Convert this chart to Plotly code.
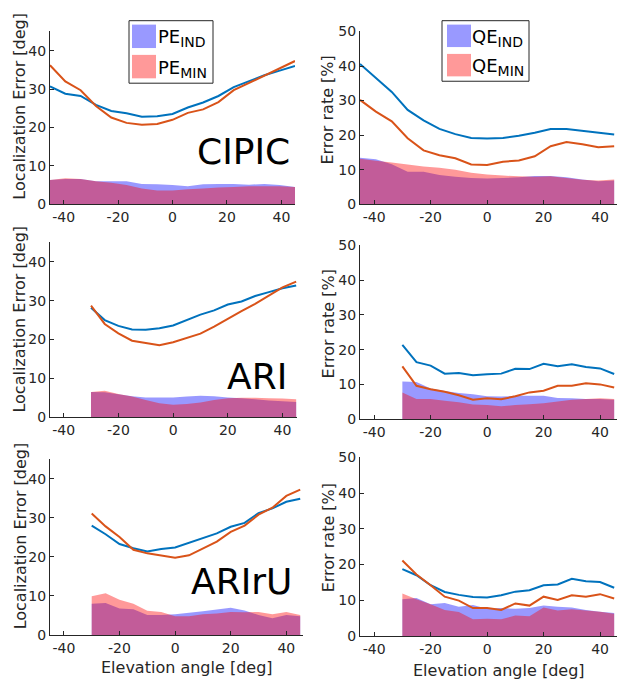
import plotly.graph_objects as go

# ---------------- data ----------------
elev_cipic = [-45, -39.375, -33.75, -28.125, -22.5, -16.875, -11.25, -5.625, 0,
              5.625, 11.25, 16.875, 22.5, 28.125, 33.75, 39.375, 45]
elev_ari = [-30, -25, -20, -15, -10, -5, 0, 5, 10, 15, 20, 25, 30, 35, 40, 45]

# CIPIC - polar error (deg)
cipic_pe_ind_line = [30.7, 28.8, 28.2, 25.9, 24.3, 23.7, 22.8, 22.9, 23.5, 25.2, 26.5, 28.2, 30.5, 32.0, 33.6, 34.8, 36.0]
cipic_pe_min_line = [36.2, 32.0, 29.7, 25.6, 22.6, 21.2, 20.7, 20.9, 22.0, 23.8, 24.7, 26.6, 29.7, 31.6, 33.5, 35.2, 37.3]
cipic_pe_ind_area = [6.3, 6.6, 6.6, 6.0, 6.0, 6.0, 5.3, 5.2, 5.0, 4.7, 5.2, 5.3, 5.3, 5.1, 5.3, 5.0, 4.5]
cipic_pe_min_area = [6.3, 6.8, 6.6, 6.0, 5.6, 5.0, 4.1, 3.6, 3.6, 3.9, 4.1, 4.4, 4.5, 4.7, 4.7, 4.7, 4.5]
# CIPIC - quadrant error (%)
cipic_qe_ind_line = [40.6, 36.5, 32.5, 27.3, 24.3, 21.8, 20.3, 19.2, 19.0, 19.2, 19.8, 20.7, 21.8, 21.8, 21.2, 20.8, 20.2]
cipic_qe_min_line = [30.2, 26.8, 24.0, 19.1, 15.6, 14.2, 13.3, 11.5, 11.4, 12.3, 12.7, 13.9, 16.8, 18.0, 17.4, 16.5, 16.8]
cipic_qe_ind_area = [13.5, 13.0, 11.6, 9.4, 9.4, 8.5, 8.0, 7.6, 7.5, 7.6, 7.8, 8.2, 8.2, 7.8, 7.2, 6.7, 6.9]
cipic_qe_min_area = [13.2, 12.6, 12.1, 11.5, 10.9, 10.6, 10.0, 9.1, 8.6, 8.3, 8.1, 8.0, 8.1, 7.6, 7.1, 6.9, 7.2]

# ARI
ari_pe_ind_line = [28.2, 25.0, 23.5, 22.6, 22.5, 22.9, 23.6, 25.0, 26.4, 27.5, 29.0, 29.8, 31.2, 32.2, 33.2, 33.9]
ari_pe_min_line = [28.7, 24.0, 21.6, 19.7, 19.1, 18.5, 19.3, 20.4, 21.5, 23.3, 25.4, 27.3, 29.2, 31.3, 33.4, 34.9]
ari_pe_ind_area = [6.5, 6.4, 5.9, 5.4, 5.1, 5.1, 5.1, 5.3, 5.5, 5.4, 5.1, 4.9, 4.6, 4.3, 4.1, 3.9]
ari_pe_min_area = [6.5, 6.8, 6.0, 5.3, 4.4, 3.6, 3.2, 3.4, 3.8, 4.4, 4.9, 5.0, 5.0, 4.9, 4.8, 4.6]
ari_qe_ind_line = [21.4, 16.4, 15.4, 13.1, 13.3, 12.6, 12.9, 13.1, 14.5, 14.4, 15.9, 15.2, 15.8, 15.0, 14.6, 13.0]
ari_qe_min_line = [15.2, 9.6, 8.6, 7.9, 6.9, 5.6, 6.0, 5.7, 6.6, 7.7, 8.2, 9.6, 9.6, 10.3, 10.0, 9.1]
ari_qe_ind_area = [10.8, 10.7, 8.8, 8.1, 7.5, 7.2, 6.6, 6.5, 6.7, 6.7, 6.7, 6.1, 6.0, 5.8, 5.8, 5.6]
ari_qe_min_area = [7.7, 5.8, 5.8, 5.3, 4.9, 4.2, 4.1, 3.7, 4.1, 4.3, 4.6, 5.1, 5.6, 5.8, 6.0, 5.8]

# ARIrU
ariru_pe_ind_line = [28.0, 25.8, 23.3, 22.2, 21.4, 22.0, 22.4, 23.6, 24.9, 26.0, 27.7, 28.7, 31.2, 32.4, 34.1, 34.9]
ariru_pe_min_line = [31.1, 27.8, 25.1, 21.8, 20.9, 20.4, 19.8, 20.4, 22.2, 23.9, 26.4, 28.0, 30.8, 32.6, 35.6, 37.2]
ariru_pe_ind_area = [8.0, 8.2, 6.8, 6.6, 5.1, 5.1, 5.3, 5.7, 6.1, 6.5, 7.0, 6.3, 5.1, 4.3, 5.1, 4.8]
ariru_pe_min_area = [9.9, 10.7, 9.0, 8.0, 6.2, 5.9, 4.8, 4.8, 5.3, 5.5, 5.9, 5.8, 5.9, 5.3, 5.9, 5.1]
ariru_qe_ind_line = [18.7, 17.0, 14.2, 12.3, 11.5, 10.9, 10.8, 11.4, 12.4, 12.8, 14.2, 14.4, 16.0, 15.3, 15.1, 13.5]
ariru_qe_min_line = [21.1, 17.2, 14.2, 11.0, 9.9, 7.8, 7.8, 7.3, 9.1, 8.5, 11.0, 10.1, 11.4, 11.0, 11.7, 10.5]
ariru_qe_ind_area = [10.3, 10.6, 8.9, 9.2, 8.2, 8.7, 7.6, 7.8, 7.6, 7.8, 8.5, 8.2, 8.0, 7.3, 6.8, 6.4]
ariru_qe_min_area = [11.9, 10.3, 8.9, 7.3, 6.7, 4.7, 4.8, 4.7, 5.7, 5.5, 8.0, 7.1, 7.5, 7.1, 6.8, 6.2]

x_tickvals = [-40, -20, 0, 20, 40]
x_ticktext = ["-40", "-20", "0", "20", "40"]
pe_tickvals = [0, 10, 20, 30, 40]
qe_tickvals = [0, 10, 20, 30, 40, 50]

dataset_names = ["CIPIC", "ARI", "ARIrU"]
pe_ylabel = "Localization Error [deg]"
qe_ylabel = "Error rate [%]"
x_label = "Elevation angle [deg]"

# ---------------- styling ----------------
W, H = 617, 685
FONT = "DejaVu Sans"
AX = "#262626"
C_IND_LINE = "#0072BD"
C_MIN_LINE = "#D95319"
C_IND_FILL = "rgba(0,0,255,0.4)"
C_MIN_FILL = "rgba(255,0,0,0.4)"


def px_x(p):
    return p / W


def px_y(p):
    return 1 - p / H


# panel geometry in pixels
panels = [
    # row 0
    dict(x=(50, 295), y=(24, 201), xr=[-45, 45], yr=[0, 45], kind="pe"),
    dict(x=(360, 617), y=(24, 201), xr=[-45, 46], yr=[0, 50], kind="qe"),
    # row 1
    dict(x=(50, 297), y=(240, 419), xr=[-45, 45.3], yr=[0, 45], kind="pe"),
    dict(x=(360, 617), y=(243, 421), xr=[-45, 46], yr=[0, 50], kind="qe"),
    # row 2
    dict(x=(50, 303), y=(462, 642), xr=[-45, 46], yr=[0, 45], kind="pe"),
    dict(x=(360, 617), y=(460, 643), xr=[-45, 46], yr=[0, 50], kind="qe"),
]

series = [
    (elev_cipic, cipic_pe_ind_area, cipic_pe_min_area, cipic_pe_ind_line, cipic_pe_min_line),
    (elev_cipic, cipic_qe_ind_area, cipic_qe_min_area, cipic_qe_ind_line, cipic_qe_min_line),
    (elev_ari, ari_pe_ind_area, ari_pe_min_area, ari_pe_ind_line, ari_pe_min_line),
    (elev_ari, ari_qe_ind_area, ari_qe_min_area, ari_qe_ind_line, ari_qe_min_line),
    (elev_ari, ariru_pe_ind_area, ariru_pe_min_area, ariru_pe_ind_line, ariru_pe_min_line),
    (elev_ari, ariru_qe_ind_area, ariru_qe_min_area, ariru_qe_ind_line, ariru_qe_min_line),
]

fig = go.Figure()
layout = dict(
    width=W, height=H,
    margin=dict(l=0, r=0, t=0, b=0),
    paper_bgcolor="white", plot_bgcolor="white",
    showlegend=False,
    font=dict(family=FONT, size=14, color=AX),
)

for i, (p, s) in enumerate(zip(panels, series)):
    n = i + 1
    xa = "x" if n == 1 else f"x{n}"
    ya = "y" if n == 1 else f"y{n}"
    elev, ind_area, min_area, ind_line, min_line = s
    fig.add_trace(go.Scatter(x=elev, y=ind_area, mode="none", fill="tozeroy",
                             fillcolor=C_IND_FILL, xaxis=xa, yaxis=ya, hoverinfo="skip"))
    fig.add_trace(go.Scatter(x=elev, y=min_area, mode="none", fill="tozeroy",
                             fillcolor=C_MIN_FILL, xaxis=xa, yaxis=ya, hoverinfo="skip"))
    fig.add_trace(go.Scatter(x=elev, y=ind_line, mode="lines",
                             line=dict(color=C_IND_LINE, width=2), xaxis=xa, yaxis=ya))
    fig.add_trace(go.Scatter(x=elev, y=min_line, mode="lines",
                             line=dict(color=C_MIN_LINE, width=2), xaxis=xa, yaxis=ya))

    axis_common = dict(showline=True, linecolor=AX, linewidth=1, mirror=False,
                       showgrid=False, zeroline=False, ticks="inside", ticklen=4,
                       tickwidth=1, tickcolor=AX, tickfont=dict(family=FONT, size=14, color=AX))
    layout["xaxis" if n == 1 else f"xaxis{n}"] = dict(
        domain=[px_x(p["x"][0]), px_x(p["x"][1])], range=p["xr"],
        anchor=ya, tickvals=x_tickvals, ticktext=x_ticktext, **axis_common)
    yticks = pe_tickvals if p["kind"] == "pe" else qe_tickvals
    layout["yaxis" if n == 1 else f"yaxis{n}"] = dict(
        domain=[px_y(p["y"][1]), px_y(p["y"][0])], range=p["yr"],
        anchor=xa, tickvals=yticks, **axis_common)

annotations = []
shapes = []

# axis titles
pe_title_y = [101, 319, 541]
qe_title_y = [105, 324, 543]
for r in range(3):
    annotations.append(dict(text=pe_ylabel, x=px_x(20), y=px_y(pe_title_y[r]), xref="paper", yref="paper",
                            textangle=-90, showarrow=False, xanchor="center", yanchor="middle",
                            font=dict(family=FONT, size=16, color=AX)))
    annotations.append(dict(text=qe_ylabel, x=px_x(328), y=px_y(qe_title_y[r]), xref="paper", yref="paper",
                            textangle=-90, showarrow=False, xanchor="center", yanchor="middle",
                            font=dict(family=FONT, size=16, color=AX)))
annotations.append(dict(text=x_label, x=px_x(187), y=px_y(675), xref="paper", yref="paper",
                        showarrow=False, xanchor="center", yanchor="middle",
                        font=dict(family=FONT, size=16, color=AX)))
annotations.append(dict(text=x_label, x=px_x(499), y=px_y(678), xref="paper", yref="paper",
                        showarrow=False, xanchor="center", yanchor="middle",
                        font=dict(family=FONT, size=16, color=AX)))

# dataset labels
label_pos = [(292, 147), (289, 377), (294, 587)]
for name, (lx, ly) in zip(dataset_names, label_pos):
    annotations.append(dict(text=name, x=px_x(lx), y=px_y(ly), xref="paper", yref="paper",
                            showarrow=False, xanchor="right", yanchor="middle",
                            font=dict(family=FONT, size=36, color="black")))

# legend boxes
legends = [
    dict(box=(129, 13, 213, 77), patch_x=(132, 156), rows=[(17, 41), (48, 72)], text_x=156, prefix="PE"),
    dict(box=(442, 13, 529, 75), patch_x=(447, 471), rows=[(17, 40), (47, 70)], text_x=470, prefix="QE"),
]
for lg in legends:
    bx0, by0, bx1, by1 = lg["box"]
    shapes.append(dict(type="rect", xref="paper", yref="paper",
                       x0=px_x(bx0), x1=px_x(bx1), y0=px_y(by1), y1=px_y(by0),
                       line=dict(color=AX, width=1), fillcolor="white", layer="above"))
    for (ry0, ry1), col, sub in zip(lg["rows"], [C_IND_FILL, C_MIN_FILL], ["IND", "MIN"]):
        shapes.append(dict(type="rect", xref="paper", yref="paper",
                           x0=px_x(lg["patch_x"][0]), x1=px_x(lg["patch_x"][1]),
                           y0=px_y(ry1), y1=px_y(ry0), line=dict(width=0),
                           fillcolor=col, layer="above"))
        annotations.append(dict(text=f"{lg['prefix']}<sub><span style='font-size:14px'>{sub}</span></sub>",
                                x=px_x(lg["text_x"]), y=px_y((ry0 + ry1) / 2 + 2), xref="paper", yref="paper",
                                showarrow=False, xanchor="left", yanchor="middle",
                                font=dict(family=FONT, size=18, color="black")))

layout["annotations"] = annotations
layout["shapes"] = shapes
fig.update_layout(**layout)
fig.write_html("out.html")
